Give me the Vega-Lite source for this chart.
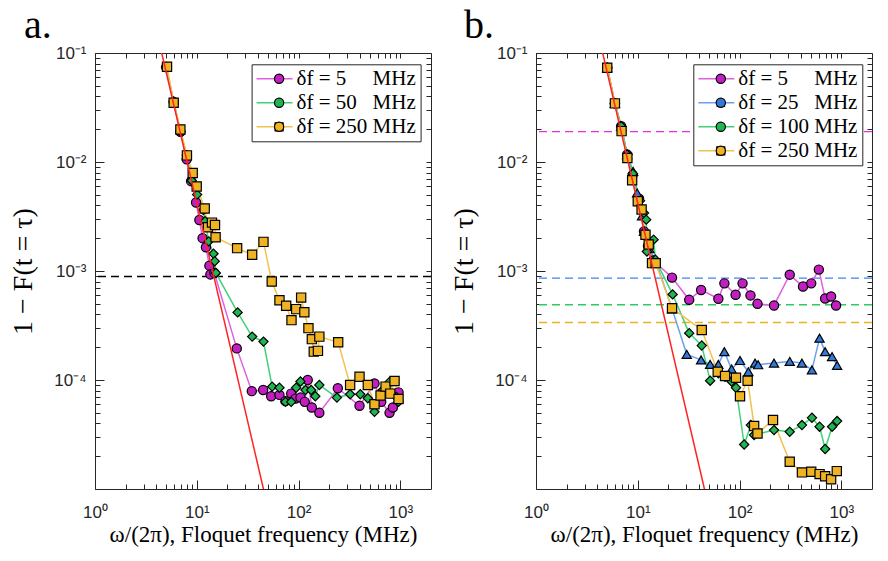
{
"$schema":"https://vega.github.io/schema/vega-lite/v6.json",
"padding":{"left":9,"top":5,"right":0,"bottom":0},
"spacing":105,
"bounds":"flush",
"datasets":{
"a":[
{"s":"5","x":5.0,"y":0.0743},{"s":"5","x":5.93,"y":0.0355},{"s":"5","x":6.9,"y":0.0189},{"s":"5","x":7.96,"y":0.0106},{"s":"5","x":8.79,"y":0.00667},{"s":"5","x":9.84,"y":0.00425},{"s":"5","x":10.6,"y":0.00294},{"s":"5","x":11.4,"y":0.002},{"s":"5","x":12.3,"y":0.00165},{"s":"5","x":13.3,"y":0.00112},{"s":"5","x":13.6,"y":0.00093},{"s":"5","x":14.9,"y":0.00096},{"s":"5","x":24.7,"y":0.000195},{"s":"5","x":34.7,"y":0.000079},{"s":"5","x":44.9,"y":0.000081},{"s":"5","x":53.8,"y":0.000071},{"s":"5","x":64.9,"y":0.000073},{"s":"5","x":74.3,"y":0.000064},{"s":"5","x":84.6,"y":0.000075},{"s":"5","x":93.3,"y":0.0000675},{"s":"5","x":104.4,"y":0.000069},{"s":"5","x":115,"y":0.000063},{"s":"5","x":123,"y":0.0001},{"s":"5","x":135,"y":0.000056},{"s":"5","x":160,"y":0.00005},{"s":"5","x":243,"y":0.000084},{"s":"5","x":397,"y":0.000058},{"s":"5","x":557,"y":0.000093},{"s":"5","x":649,"y":0.000063},{"s":"5","x":783,"y":0.00005},{"s":"5","x":844,"y":0.000056},{"s":"5","x":960,"y":0.000077},
{"s":"50","x":5.0,"y":0.074},{"s":"50","x":5.93,"y":0.036},{"s":"50","x":6.9,"y":0.019},{"s":"50","x":7.99,"y":0.01155},{"s":"50","x":8.91,"y":0.00676},{"s":"50","x":10.07,"y":0.00502},{"s":"50","x":11.6,"y":0.00363},{"s":"50","x":12.07,"y":0.00286},{"s":"50","x":13.1,"y":0.00187},{"s":"50","x":14.6,"y":0.00144},{"s":"50","x":15.0,"y":0.00123},{"s":"50","x":15.4,"y":0.00096},{"s":"50","x":25.2,"y":0.000417},{"s":"50","x":35.0,"y":0.00025},{"s":"50","x":45.2,"y":0.000225},{"s":"50","x":55,"y":0.000087},{"s":"50","x":64.9,"y":0.000085},{"s":"50","x":74.3,"y":0.000063},{"s":"50","x":84.6,"y":0.000063},{"s":"50","x":94.7,"y":0.000085},{"s":"50","x":104.4,"y":0.000097},{"s":"50","x":117,"y":0.000081},{"s":"50","x":133,"y":0.000081},{"s":"50","x":146,"y":0.000071},{"s":"50","x":160,"y":0.00009},{"s":"50","x":238,"y":0.000069},{"s":"50","x":321,"y":0.000074},{"s":"50","x":404,"y":0.000074},{"s":"50","x":479,"y":0.000068},{"s":"50","x":557,"y":0.000051},{"s":"50","x":673,"y":0.000081},{"s":"50","x":783,"y":0.000096},{"s":"50","x":912,"y":0.00007},{"s":"50","x":960,"y":0.000063},
{"s":"250","x":5.1,"y":0.0748},{"s":"250","x":5.93,"y":0.0349},{"s":"250","x":6.9,"y":0.0199},{"s":"250","x":8.0,"y":0.0115},{"s":"250","x":9.12,"y":0.00794},{"s":"250","x":9.98,"y":0.00596},{"s":"250","x":11.96,"y":0.00374},{"s":"250","x":12.9,"y":0.00252},{"s":"250","x":14.1,"y":0.00278},{"s":"250","x":15.1,"y":0.00264},{"s":"250","x":15.3,"y":0.00204},{"s":"250","x":24.9,"y":0.00162},{"s":"250","x":35.0,"y":0.00141},{"s":"250","x":45.2,"y":0.00185},{"s":"250","x":54.5,"y":0.0008},{"s":"250","x":64.9,"y":0.00054},{"s":"250","x":75.5,"y":0.00048},{"s":"250","x":85.2,"y":0.000354},{"s":"250","x":94.7,"y":0.000447},{"s":"250","x":106,"y":0.00057},{"s":"250","x":114,"y":0.000419},{"s":"250","x":125,"y":0.000299},{"s":"250","x":135,"y":0.000237},{"s":"250","x":141,"y":0.000182},{"s":"250","x":155,"y":0.000185},{"s":"250","x":160,"y":0.00025},{"s":"250","x":245,"y":0.000222},{"s":"250","x":321,"y":0.00009},{"s":"250","x":397,"y":0.000107},{"s":"250","x":479,"y":0.00009},{"s":"250","x":557,"y":0.00006},{"s":"250","x":639,"y":0.000072},{"s":"250","x":716,"y":0.000087},{"s":"250","x":796,"y":0.000075},{"s":"250","x":877,"y":0.000098},{"s":"250","x":960,"y":0.000067}
],
"b":[
{"s":"5","x":5.01,"y":0.0733},{"s":"5","x":5.96,"y":0.0345},{"s":"5","x":6.87,"y":0.0213},{"s":"5","x":7.87,"y":0.0117},{"s":"5","x":8.9,"y":0.0076},{"s":"5","x":10.3,"y":0.0046},{"s":"5","x":11.5,"y":0.00231},{"s":"5","x":12.6,"y":0.0017},{"s":"5","x":14.2,"y":0.00125},{"s":"5","x":21.7,"y":0.00087},{"s":"5","x":32,"y":0.000544},{"s":"5","x":41.9,"y":0.00067},{"s":"5","x":61.9,"y":0.000556},{"s":"5","x":70.9,"y":0.00077},{"s":"5","x":91.4,"y":0.000605},{"s":"5","x":107,"y":0.00077},{"s":"5","x":128,"y":0.000597},{"s":"5","x":150,"y":0.0005},{"s":"5","x":218,"y":0.000483},{"s":"5","x":311,"y":0.000925},{"s":"5","x":420,"y":0.00072},{"s":"5","x":506,"y":0.00077},{"s":"5","x":601,"y":0.00103},{"s":"5","x":693,"y":0.00056},{"s":"5","x":793,"y":0.000584},{"s":"5","x":887,"y":0.000483},
{"s":"25","x":5.01,"y":0.0733},{"s":"25","x":5.96,"y":0.0345},{"s":"25","x":6.87,"y":0.0213},{"s":"25","x":7.87,"y":0.0117},{"s":"25","x":9.0,"y":0.0082},{"s":"25","x":9.85,"y":0.0052},{"s":"25","x":11.0,"y":0.0032},{"s":"25","x":11.5,"y":0.00231},{"s":"25","x":13.0,"y":0.0016},{"s":"25","x":14.9,"y":0.00127},{"s":"25","x":21.7,"y":0.00045},{"s":"25","x":30.3,"y":0.000172},{"s":"25","x":41.9,"y":0.000153},{"s":"25","x":51.4,"y":0.000139},{"s":"25","x":61.9,"y":0.000139},{"s":"25","x":70.9,"y":0.000182},{"s":"25","x":83.5,"y":0.000126},{"s":"25","x":101,"y":0.000151},{"s":"25","x":122,"y":0.000119},{"s":"25","x":142,"y":0.000143},{"s":"25","x":152,"y":0.000138},{"s":"25","x":218,"y":0.000143},{"s":"25","x":311,"y":0.000148},{"s":"25","x":410,"y":0.000143},{"s":"25","x":514,"y":0.000124},{"s":"25","x":611,"y":0.000242},{"s":"25","x":693,"y":0.000182},{"s":"25","x":811,"y":0.000164},{"s":"25","x":908,"y":0.000136},
{"s":"100","x":5.01,"y":0.0733},{"s":"100","x":5.96,"y":0.0345},{"s":"100","x":6.87,"y":0.0213},{"s":"100","x":7.87,"y":0.0117},{"s":"100","x":8.95,"y":0.0078},{"s":"100","x":10.5,"y":0.0044},{"s":"100","x":11.5,"y":0.0034},{"s":"100","x":12.1,"y":0.00296},{"s":"100","x":12.3,"y":0.00151},{"s":"100","x":14.3,"y":0.00194},{"s":"100","x":14.9,"y":0.00127},{"s":"100","x":22.0,"y":0.00061},{"s":"100","x":32,"y":0.000269},{"s":"100","x":42.5,"y":0.000207},{"s":"100","x":51.4,"y":0.0000986},{"s":"100","x":61.9,"y":0.000115},{"s":"100","x":72,"y":0.000107},{"s":"100","x":83.5,"y":0.000097},{"s":"100","x":92.2,"y":0.000085},{"s":"100","x":111,"y":0.0000256},{"s":"100","x":129,"y":0.0000386},{"s":"100","x":139,"y":0.0000313},{"s":"100","x":218,"y":0.0000347},{"s":"100","x":311,"y":0.0000335},{"s":"100","x":410,"y":0.0000386},{"s":"100","x":514,"y":0.000045},{"s":"100","x":611,"y":0.0000373},{"s":"100","x":693,"y":0.0000233},{"s":"100","x":811,"y":0.0000373},{"s":"100","x":908,"y":0.000042},
{"s":"250","x":5.01,"y":0.0733},{"s":"250","x":5.96,"y":0.0345},{"s":"250","x":6.93,"y":0.0192},{"s":"250","x":7.9,"y":0.0109},{"s":"250","x":8.8,"y":0.0068},{"s":"250","x":10.0,"y":0.00436},{"s":"250","x":10.9,"y":0.00366},{"s":"250","x":11.9,"y":0.00215},{"s":"250","x":12.8,"y":0.00175},{"s":"250","x":13.8,"y":0.00118},{"s":"250","x":15.0,"y":0.00118},{"s":"250","x":21.7,"y":0.000456},{"s":"250","x":42.5,"y":0.000288},{"s":"250","x":61,"y":0.000119},{"s":"250","x":72,"y":0.000109},{"s":"250","x":92.2,"y":0.000105},{"s":"250","x":101,"y":0.000071},{"s":"250","x":120,"y":0.0000986},{"s":"250","x":139,"y":0.0000379},{"s":"250","x":150,"y":0.0000323},{"s":"250","x":213,"y":0.000043},{"s":"250","x":311,"y":0.0000178},{"s":"250","x":410,"y":0.0000142},{"s":"250","x":506,"y":0.0000144},{"s":"250","x":611,"y":0.0000137},{"s":"250","x":693,"y":0.0000131},{"s":"250","x":793,"y":0.0000123},{"s":"250","x":902,"y":0.0000146}
],
"red":[{"x":4,"y":0.163},{"x":50,"y":0.00000667}],
"ha":[{"y":0.00089}],
"hb1":[{"y":0.019}],
"hb2":[{"y":0.00086}],
"hb3":[{"y":0.00049}],
"hb4":[{"y":0.000337}]
},
"hconcat":[
{
"width":336,"height":436,
"title":{"text":"a.","anchor":"start","frame":"group","font":"Liberation Serif","fontSize":40,"fontWeight":"normal","color":"black","dx":-71,"offset":-34,"baseline":"alphabetic"},
"resolve":{"axis":{"x":"independent","y":"independent"}},
"layer":[
{"data":{"name":"ha"},"mark":{"type":"rule","color":"black","strokeDash":[8,5],"strokeWidth":1.3},
 "encoding":{"y":{"field":"y","type":"quantitative","scale":{"type":"log","domain":[0.00001,0.1],"nice":false},"axis":null}}},
{"data":{"name":"a"},"mark":{"type":"line","strokeWidth":1.5},
 "encoding":{
  "x":{"field":"x","type":"quantitative","scale":{"type":"log","domain":[1,2000],"nice":false},"axis":{"orient":"bottom","values":[1,10,100,1000],"tickSize":-9,"labelPadding":24,"labelExpr":"'10' + (datum.value < 0.99 ? '⁻' : '') + ['⁰','¹','²','³','⁴','⁵'][abs(round(log(datum.value)/LN10))]","title":"ω/(2π), Floquet frequency (MHz)","titleFontSize":23,"titlePadding":3}},
  "y":{"field":"y","type":"quantitative","scale":{"type":"log","domain":[0.00001,0.1],"nice":false},"axis":{"orient":"left","values":[0.1,0.01,0.001,0.0001],"tickSize":-9,"labelPadding":18,"labelExpr":"'10' + (datum.value < 0.99 ? '⁻' : '') + ['⁰','¹','²','³','⁴','⁵'][abs(round(log(datum.value)/LN10))]","title":"1 − F(t = τ)","titleFontSize":28,"titlePadding":16}},
  "color":{"field":"s","type":"nominal","scale":{"domain":["5","50","250"],"range":["#E060E0","#3FD27A","#F2C250"]},
   "legend":{"orient":"none","legendX":156.6,"legendY":11.3,"title":null,"symbolType":"stroke","symbolSize":1296,"symbolStrokeWidth":1.5,"labelFontSize":21,"padding":4,"rowPadding":2,"clipHeight":21,"labelOffset":3,"symbolOffset":0,"strokeColor":"#262626","fillColor":"white","labelLimit":0,
    "labelExpr":"{'5':'δf = 5\u2002\u2002 MHz\u2002','50':'δf = 50\u2002 MHz\u2002','250':'δf = 250 MHz\u2002'}[datum.label]"}}
 }},
{"data":{"name":"a"},"mark":{"type":"point","filled":true,"opacity":1,"stroke":"black","strokeWidth":1.2,"size":85},
 "encoding":{
  "x":{"field":"x","type":"quantitative","scale":{"type":"log","domain":[1,2000],"nice":false},"axis":{"orient":"bottom","values":[2,3,4,5,6,7,8,9,20,30,40,50,60,70,80,90,200,300,400,500,600,700,800,900],"tickSize":-5,"labels":false,"title":null,"minExtent":0,"maxExtent":0}},
  "y":{"field":"y","type":"quantitative","scale":{"type":"log","domain":[0.00001,0.1],"nice":false},"axis":{"orient":"left","values":[0.00002,0.00003,0.00004,0.00005,0.00006,0.00007,0.00008,0.00009,0.0002,0.0003,0.0004,0.0005,0.0006,0.0007,0.0008,0.0009,0.002,0.003,0.004,0.005,0.006,0.007,0.008,0.009,0.02,0.03,0.04,0.05,0.06,0.07,0.08,0.09],"tickSize":-5,"labels":false,"title":null,"minExtent":0,"maxExtent":0}},
  "fill":{"field":"s","type":"nominal","sort":["5","50","250"],"scale":{"range":["#C21FC2","#1FB552","#EFB324"]},
   "legend":{"orient":"none","legendX":156.6,"legendY":11.3,"title":null,"symbolSize":85,"symbolStrokeColor":"black","symbolStrokeWidth":1.2,"labelFontSize":21,"padding":4,"rowPadding":2,"clipHeight":21,"labelOffset":18,"symbolOffset":13,"labelExpr":"''"}},
  "shape":{"field":"s","type":"nominal","sort":["5","50","250"],"scale":{"range":["circle","diamond","square"]},
   "legend":{"orient":"none","legendX":156.6,"legendY":11.3,"title":null,"symbolSize":85,"symbolStrokeColor":"black","symbolStrokeWidth":1.2,"labelFontSize":21,"padding":4,"rowPadding":2,"clipHeight":21,"labelOffset":18,"symbolOffset":13,"labelExpr":"''"}}
 }},
{"data":{"name":"red"},"mark":{"type":"line","color":"#FF2222","strokeWidth":1.5,"clip":true},
 "encoding":{
  "x":{"field":"x","type":"quantitative","scale":{"type":"log","domain":[1,2000],"nice":false},"axis":{"orient":"top","values":[1,2,3,4,5,6,7,8,9,10,20,30,40,50,60,70,80,90,100,200,300,400,500,600,700,800,900,1000],"tickSize":-5,"labels":false,"title":null,"minExtent":0,"maxExtent":0}},
  "y":{"field":"y","type":"quantitative","scale":{"type":"log","domain":[0.00001,0.1],"nice":false},"axis":{"orient":"right","values":[0.00002,0.00003,0.00004,0.00005,0.00006,0.00007,0.00008,0.00009,0.0001,0.0002,0.0003,0.0004,0.0005,0.0006,0.0007,0.0008,0.0009,0.001,0.002,0.003,0.004,0.005,0.006,0.007,0.008,0.009,0.01,0.02,0.03,0.04,0.05,0.06,0.07,0.08,0.09,0.1],"tickSize":-5,"labels":false,"title":null,"minExtent":0,"maxExtent":0}}
 }}
]
},
{
"width":336,"height":436,
"title":{"text":"b.","anchor":"start","frame":"group","font":"Liberation Serif","fontSize":40,"fontWeight":"normal","color":"black","dx":-72,"offset":-34,"baseline":"alphabetic"},
"resolve":{"axis":{"x":"independent","y":"independent"}},
"layer":[
{"data":{"name":"hb1"},"mark":{"type":"rule","color":"#E030E0","strokeDash":[8,5],"strokeWidth":1.4},
 "encoding":{"y":{"field":"y","type":"quantitative","scale":{"type":"log","domain":[0.00001,0.1],"nice":false},"axis":null}}},
{"data":{"name":"hb2"},"mark":{"type":"rule","color":"#3D85F0","strokeDash":[8,5],"strokeWidth":1.4},
 "encoding":{"y":{"field":"y","type":"quantitative","scale":{"type":"log","domain":[0.00001,0.1],"nice":false},"axis":null}}},
{"data":{"name":"hb3"},"mark":{"type":"rule","color":"#2ECC5E","strokeDash":[8,5],"strokeWidth":1.4},
 "encoding":{"y":{"field":"y","type":"quantitative","scale":{"type":"log","domain":[0.00001,0.1],"nice":false},"axis":null}}},
{"data":{"name":"hb4"},"mark":{"type":"rule","color":"#EDB120","strokeDash":[8,5],"strokeWidth":1.4},
 "encoding":{"y":{"field":"y","type":"quantitative","scale":{"type":"log","domain":[0.00001,0.1],"nice":false},"axis":null}}},
{"data":{"name":"b"},"mark":{"type":"line","strokeWidth":1.5},
 "encoding":{
  "x":{"field":"x","type":"quantitative","scale":{"type":"log","domain":[1,2000],"nice":false},"axis":{"orient":"bottom","values":[1,10,100,1000],"tickSize":-9,"labelPadding":24,"labelExpr":"'10' + (datum.value < 0.99 ? '⁻' : '') + ['⁰','¹','²','³','⁴','⁵'][abs(round(log(datum.value)/LN10))]","title":"ω/(2π), Floquet frequency (MHz)","titleFontSize":23,"titlePadding":3}},
  "y":{"field":"y","type":"quantitative","scale":{"type":"log","domain":[0.00001,0.1],"nice":false},"axis":{"orient":"left","values":[0.1,0.01,0.001,0.0001],"tickSize":-9,"labelPadding":18,"labelExpr":"'10' + (datum.value < 0.99 ? '⁻' : '') + ['⁰','¹','²','³','⁴','⁵'][abs(round(log(datum.value)/LN10))]","title":"1 − F(t = τ)","titleFontSize":28,"titlePadding":16}},
  "color":{"field":"s","type":"nominal","scale":{"domain":["5","25","100","250"],"range":["#E060E0","#6AA2EE","#3FD27A","#F2C250"]},
   "legend":{"orient":"none","legendX":157.3,"legendY":11.3,"title":null,"symbolType":"stroke","symbolSize":1296,"symbolStrokeWidth":1.5,"labelFontSize":21,"padding":4,"rowPadding":2,"clipHeight":21,"labelOffset":3,"symbolOffset":0,"strokeColor":"#262626","fillColor":"white","labelLimit":0,
    "labelExpr":"{'5':'δf = 5\u2002\u2002 MHz\u2002','25':'δf = 25\u2002 MHz\u2002','100':'δf = 100 MHz\u2002','250':'δf = 250 MHz\u2002'}[datum.label]"}}
 }},
{"data":{"name":"b"},"mark":{"type":"point","filled":true,"opacity":1,"stroke":"black","strokeWidth":1.2,"size":85},
 "encoding":{
  "x":{"field":"x","type":"quantitative","scale":{"type":"log","domain":[1,2000],"nice":false},"axis":{"orient":"bottom","values":[2,3,4,5,6,7,8,9,20,30,40,50,60,70,80,90,200,300,400,500,600,700,800,900],"tickSize":-5,"labels":false,"title":null,"minExtent":0,"maxExtent":0}},
  "y":{"field":"y","type":"quantitative","scale":{"type":"log","domain":[0.00001,0.1],"nice":false},"axis":{"orient":"left","values":[0.00002,0.00003,0.00004,0.00005,0.00006,0.00007,0.00008,0.00009,0.0002,0.0003,0.0004,0.0005,0.0006,0.0007,0.0008,0.0009,0.002,0.003,0.004,0.005,0.006,0.007,0.008,0.009,0.02,0.03,0.04,0.05,0.06,0.07,0.08,0.09],"tickSize":-5,"labels":false,"title":null,"minExtent":0,"maxExtent":0}},
  "fill":{"field":"s","type":"nominal","sort":["5","25","100","250"],"scale":{"range":["#C21FC2","#3479DA","#1FB552","#EFB324"]},
   "legend":{"orient":"none","legendX":157.3,"legendY":11.3,"title":null,"symbolSize":85,"symbolStrokeColor":"black","symbolStrokeWidth":1.2,"labelFontSize":21,"padding":4,"rowPadding":2,"clipHeight":21,"labelOffset":18,"symbolOffset":13,"labelExpr":"''"}},
  "shape":{"field":"s","type":"nominal","sort":["5","25","100","250"],"scale":{"range":["circle","triangle-up","diamond","square"]},
   "legend":{"orient":"none","legendX":157.3,"legendY":11.3,"title":null,"symbolSize":85,"symbolStrokeColor":"black","symbolStrokeWidth":1.2,"labelFontSize":21,"padding":4,"rowPadding":2,"clipHeight":21,"labelOffset":18,"symbolOffset":13,"labelExpr":"''"}}
 }},
{"data":{"name":"red"},"mark":{"type":"line","color":"#FF2222","strokeWidth":1.5,"clip":true},
 "encoding":{
  "x":{"field":"x","type":"quantitative","scale":{"type":"log","domain":[1,2000],"nice":false},"axis":{"orient":"top","values":[1,2,3,4,5,6,7,8,9,10,20,30,40,50,60,70,80,90,100,200,300,400,500,600,700,800,900,1000],"tickSize":-5,"labels":false,"title":null,"minExtent":0,"maxExtent":0}},
  "y":{"field":"y","type":"quantitative","scale":{"type":"log","domain":[0.00001,0.1],"nice":false},"axis":{"orient":"right","values":[0.00002,0.00003,0.00004,0.00005,0.00006,0.00007,0.00008,0.00009,0.0001,0.0002,0.0003,0.0004,0.0005,0.0006,0.0007,0.0008,0.0009,0.001,0.002,0.003,0.004,0.005,0.006,0.007,0.008,0.009,0.01,0.02,0.03,0.04,0.05,0.06,0.07,0.08,0.09,0.1],"tickSize":-5,"labels":false,"title":null,"minExtent":0,"maxExtent":0}}
 }}
]
}
],
"resolve":{"scale":{"color":"independent","fill":"independent","shape":"independent"},"legend":{"color":"independent","fill":"independent","shape":"independent"}},
"config":{
 "view":{"stroke":"#262626","strokeWidth":1},
 "axis":{"grid":false,"domain":false,"tickColor":"#262626","tickWidth":1,"labelFont":"Liberation Sans","labelFontSize":17,"labelColor":"#262626","titleFont":"Liberation Serif","titleFontWeight":"normal","titleColor":"black","labelFlush":false,"labelOverlap":false},
 "legend":{"labelFont":"Liberation Serif","labelFontSize":21,"labelColor":"black"}
}
}
